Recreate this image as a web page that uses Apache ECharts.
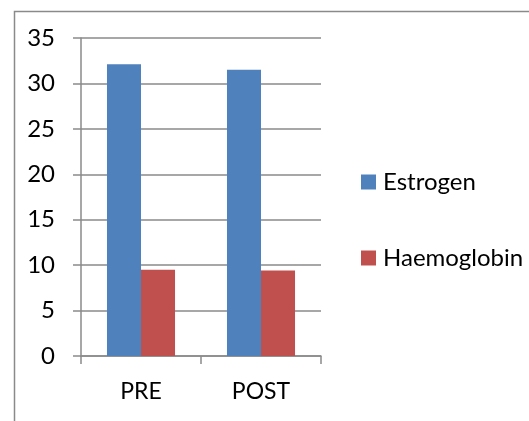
<!DOCTYPE html>
<html>
<head>
<meta charset="utf-8">
<script src="https://cdn.jsdelivr.net/npm/echarts@6/dist/echarts.min.js"></script>
<style>
html,body{margin:0;padding:0;background:#fff;}
#c{width:529px;height:421px;}
</style>
</head>
<body>
<div id="c"></div>
<script>
const categories = ['PRE', 'POST'];
const estrogen = [32.1, 31.5];
const haemoglobin = [9.5, 9.4];
const yTicks = [0, 5, 10, 15, 20, 25, 30, 35];

const FONT = 'Lato';
const chart = echarts.init(document.getElementById('c'), null, {renderer: 'canvas'});
chart.setOption({
  animation: false,
  backgroundColor: '#ffffff',
  graphic: [{
    type: 'rect',
    left: 12, top: 9,
    shape: {x: 0, y: 0, width: 700, height: 600},
    style: {fill: 'none', stroke: '#8a8a8a', lineWidth: 1.5},
    silent: true
  }],
  grid: {left: 81, top: 38, right: 208, bottom: 65},
  legend: {
    orient: 'vertical',
    left: 361, top: 169,
    padding: 0,
    itemWidth: 15, itemHeight: 15,
    itemGap: 50,
    icon: 'rect',
    textStyle: {fontFamily: FONT, fontSize: 24, color: '#000', lineHeight: 26, padding: [0, 0, 0, 2]},
    data: ['Estrogen', 'Haemoglobin']
  },
  xAxis: {
    type: 'category',
    data: categories,
    axisLine: {show: true, lineStyle: {color: '#8a8a8a', width: 1.5}},
    axisTick: {show: true, length: 8, lineStyle: {color: '#8a8a8a', width: 1.5}},
    axisLabel: {fontFamily: FONT, fontSize: 23, color: '#000', margin: 24}
  },
  yAxis: {
    type: 'value',
    min: 0, max: 35, interval: 5,
    axisLine: {show: true, lineStyle: {color: '#8a8a8a', width: 1.5}},
    axisTick: {show: true, length: 8, lineStyle: {color: '#8a8a8a', width: 1.5}},
    splitLine: {show: true, lineStyle: {color: '#8a8a8a', width: 1.5}},
    axisLabel: {
      fontFamily: FONT, fontSize: 24, color: '#000', margin: 26,
      formatter: v => yTicks.includes(v) ? String(v) : ''
    }
  },
  series: [
    {name: 'Estrogen', type: 'bar', data: estrogen, itemStyle: {color: '#4F81BD'},
     barGap: '0%', barCategoryGap: '43.3%'},
    {name: 'Haemoglobin', type: 'bar', data: haemoglobin, itemStyle: {color: '#C0504D'},
     barGap: '0%', barCategoryGap: '43.3%'}
  ]
});
</script>
</body>
</html>
